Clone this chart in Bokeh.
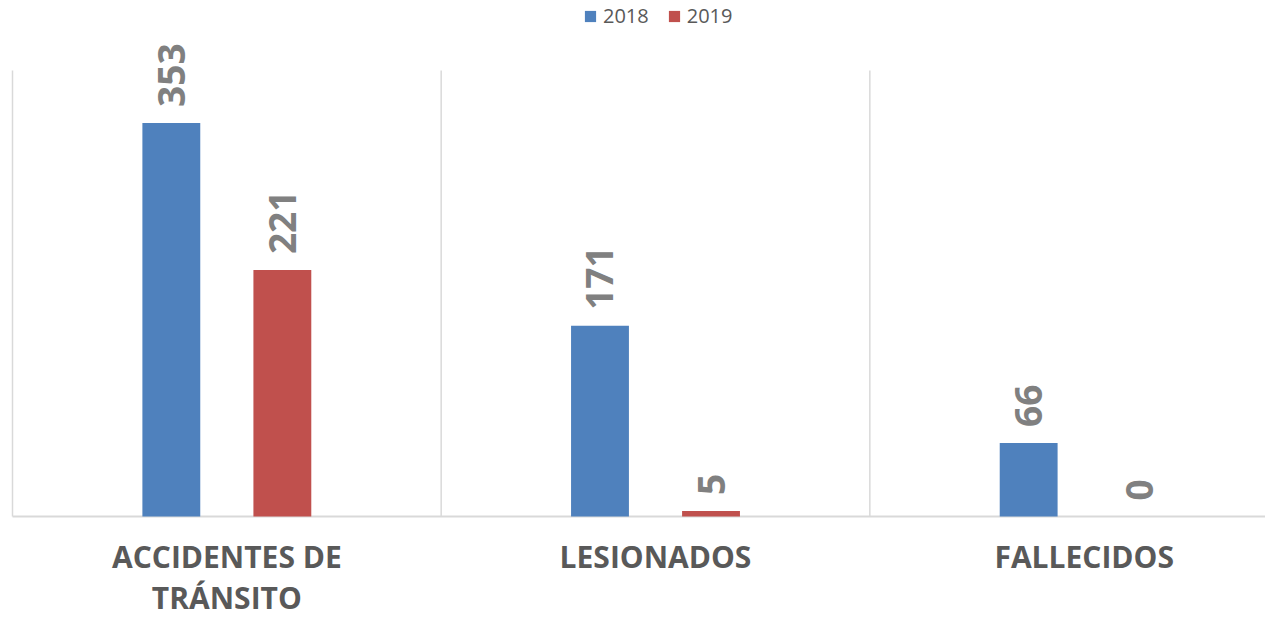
import math
from bokeh.plotting import figure
from bokeh.models import Range1d, ColumnDataSource, Legend, LegendItem
from bokeh.embed import file_html
from bokeh.resources import INLINE
from bokeh.core.properties import value

categories = ["ACCIDENTES DE\nTRÁNSITO", "LESIONADOS", "FALLECIDOS"]
series = ["2018", "2019"]
values_2018 = [353, 171, 66]
values_2019 = [221, 5, 0]
colors = ["#4f81bd", "#c0504d"]

offset = 0.1295
bar_w = 0.135

p = figure(width=1265, height=618, x_range=Range1d(-0.028, 2.923), y_range=Range1d(-91.5, 462.8),
           output_backend="svg", toolbar_location=None,
           min_border_left=0, min_border_right=0, min_border_top=0, min_border_bottom=0)
p.outline_line_color = None
p.xgrid.visible = False
p.ygrid.visible = False
p.xaxis.visible = False
p.yaxis.visible = False
p.background_fill_color = "white"

n = len(categories)
centers = [i + 0.5 for i in range(n)]

# category separators
p.segment(x0=list(range(n)), y0=[0] * n, x1=list(range(n)), y1=[400] * n,
          line_color="#d9d9d9", line_width=1.5)
# baseline (category axis)
p.segment(x0=[0], y0=[0], x1=[n], y1=[0], line_color="#d9d9d9", line_width=2)

renderers = []
for k, (vals, col) in enumerate(zip([values_2018, values_2019], colors)):
    xs = [c + (-offset if k == 0 else offset) for c in centers]
    src = ColumnDataSource(dict(x=xs, top=vals, lab=[str(v) for v in vals]))
    r = p.vbar(x="x", top="top", width=bar_w, bottom=0, source=src, fill_color=col, line_color=None)
    renderers.append(r)
    p.text(x="x", y="top", text="lab", source=src, angle=math.pi / 2,
           text_align="left", text_baseline="middle", y_offset=-16,
           text_font=value("Open Sans"), text_font_style="bold", text_font_size="37px",
           text_color="#808080")

# category labels
p.text(x=centers, y=[0] * n, text=categories, text_align="center", text_baseline="top",
       y_offset=20, text_line_height=1.0,
       text_font=value("Open Sans"), text_font_style="bold", text_font_size="30px",
       text_color="#595959")

legend = Legend(items=[LegendItem(label=s, renderers=[r]) for s, r in zip(series, renderers)],
                location=(583, 589), orientation="horizontal",
                glyph_width=14, glyph_height=14, label_standoff=6, spacing=18,
                label_text_font="Open Sans", label_text_font_size="20px",
                label_text_color="#595959", label_height=20,
                padding=0, margin=0, border_line_color=None, background_fill_alpha=0)
p.add_layout(legend)

open("out.html", "w").write(file_html(p, INLINE))
